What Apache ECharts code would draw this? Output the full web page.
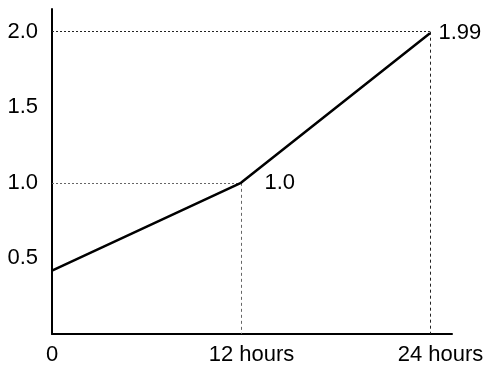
<!DOCTYPE html>
<html>
<head>
<meta charset="utf-8">
<script src="https://cdn.jsdelivr.net/npm/echarts@6/dist/echarts.min.js"></script>
<style>
html,body{margin:0;padding:0;background:#fff;}
#c{width:489px;height:367px;}
</style>
</head>
<body>
<div id="c"></div>
<script>
// Data
const xValues = [0, 12, 24];
const yValues = [0.42, 1.0, 1.99];
const pointLabels = ['', '1.0', '1.99'];
const xTickValues = [0, 12, 24];
const xTickLabels = ['0', '12 hours', '24 hours'];
const yTickValues = [0.5, 1.0, 1.5, 2.0];
const yTickLabels = ['0.5', '1.0', '1.5', '2.0'];
const guideYs = [1.0, 2.0];   // dotted guide levels
const guideXs = [12, 24];     // dotted guide positions

const font = '"Liberation Sans", Arial, sans-serif';
const fs = 22;
const labelDist = [0, 23, 8];

const chart = echarts.init(document.getElementById('c'), null, {renderer: 'canvas'});

const seriesData = xValues.map((x, i) => ({
  value: [x, yValues[i]],
  label: {
    show: pointLabels[i] !== '',
    formatter: pointLabels[i],
    position: 'right',
    distance: labelDist[i],
    fontSize: fs,
    fontFamily: font,
    color: '#000'
  }
}));

const guideColors = ['#666', '#222'];
const markData = [];
guideXs.forEach((gx, i) => {
  const gy = guideYs[i];
  const ls = {color: guideColors[i], width: 1, type: [2, 2]};
  markData.push([{coord: [0, gy], lineStyle: ls}, {coord: [gx, gy]}]);
  markData.push([{coord: [gx, gy], lineStyle: {color: guideColors[i], width: 1, type: [3, 3]}}, {coord: [gx, 0]}]);
});

chart.setOption({
  animation: false,
  backgroundColor: '#fff',
  grid: {left: 52, right: 37, top: 9, bottom: 33, containLabel: false},
  xAxis: {
    type: 'value',
    min: 0,
    max: 25.4,
    interval: 12,
    splitLine: {show: false},
    axisTick: {show: false},
    axisLine: {show: true, onZero: false, lineStyle: {color: '#000', width: 2}},
    axisLabel: {
      margin: 10,
      fontSize: fs,
      fontFamily: font,
      color: '#000',
      showMaxLabel: false,
      formatter: function (v) {
        const i = xTickValues.indexOf(v);
        if (i < 0) return '';
        if (i === 0) return xTickLabels[i];
        return '{s|' + xTickLabels[i] + '}';
      },
      rich: {
        s: {fontSize: fs, fontFamily: font, color: '#000', padding: [0, 0, 0, 21]}
      }
    }
  },
  yAxis: {
    type: 'value',
    min: 0,
    max: 2.15,
    interval: 0.5,
    splitLine: {show: false},
    axisTick: {show: false},
    axisLine: {show: true, onZero: false, lineStyle: {color: '#000', width: 2}},
    axisLabel: {
      margin: 14,
      fontSize: fs,
      fontFamily: font,
      color: '#000',
      showMaxLabel: false,
      formatter: function (v) {
        for (let i = 0; i < yTickValues.length; i++) {
          if (Math.abs(yTickValues[i] - v) < 1e-9) return yTickLabels[i];
        }
        return '';
      }
    }
  },
  series: [{
    type: 'line',
    data: seriesData,
    symbol: 'circle',
    symbolSize: 1,
    showSymbol: true,
    itemStyle: {color: '#000'},
    lineStyle: {color: '#000', width: 2.5},
    z: 5,
    markLine: {
      silent: true,
      symbol: ['none', 'none'],
      label: {show: false},
      animation: false,
      data: markData
    }
  }]
});
</script>
</body>
</html>
